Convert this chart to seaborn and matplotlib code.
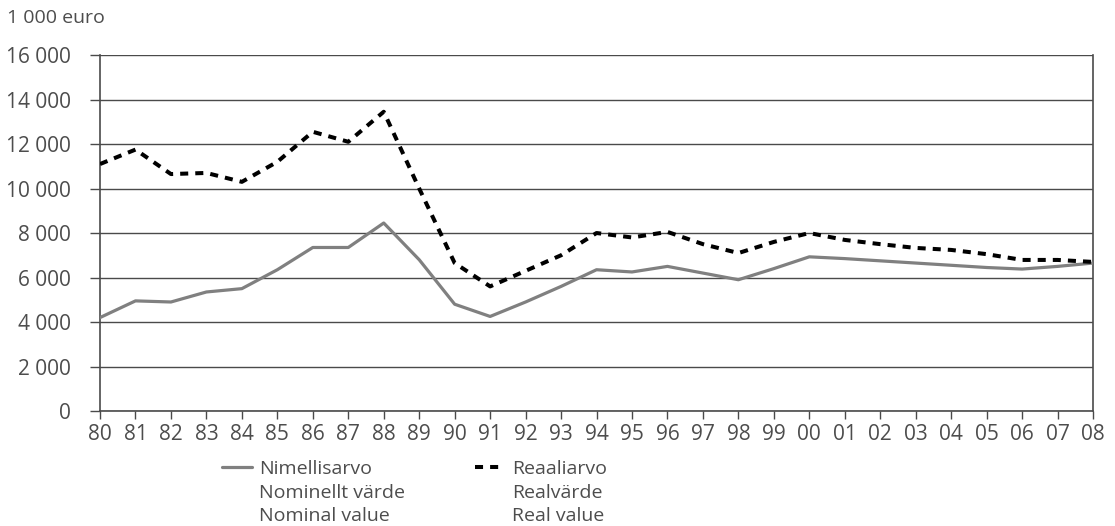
import numpy as np
import pandas as pd
import matplotlib
matplotlib.use("Agg")
import matplotlib.pyplot as plt
import seaborn as sns
from matplotlib.lines import Line2D
from matplotlib.ticker import FuncFormatter, MultipleLocator

years = list(range(1980, 2009))
year_labels = [f"{y % 100:02d}" for y in years]
nominal = [4200, 4950, 4900, 5350, 5500, 6350, 7350, 7350, 8450, 6800,
           4800, 4250, 4900, 5600, 6350, 6250, 6500, 6200, 5900, 6400,
           6930, 6850, 6750, 6650, 6550, 6450, 6380, 6500, 6650]
real = [11100, 11750, 10650, 10700, 10300, 11200, 12550, 12100, 13450, 10000,
        6650, 5600, 6300, 7000, 8000, 7800, 8050, 7500, 7100, 7600,
        8000, 7690, 7500, 7330, 7240, 7050, 6790, 6790, 6700]
nominal_labels = ["Nimellisarvo", "Nominellt värde", "Nominal value"]
real_labels = ["Reaaliarvo", "Realvärde", "Real value"]

sns.set_style("white")
plt.rcParams["font.family"] = ["Open Sans", "DejaVu Sans"]
text_col = "#4d4d4d"
grid_col = "#4a4a4a"
nom_col = "#808080"
real_dash = (0, (2.0, 1.75))

df = pd.DataFrame({"year": years, "nominal": nominal, "real": real})

fig = plt.figure(figsize=(11.15, 5.26), dpi=100)
ax = fig.add_axes([0.0897, 0.2186, 0.8906, 0.6768])

# horizontal grid incl. the top line at 16 000
for v in range(0, 16001, 2000):
    ax.axhline(v, color=grid_col, linewidth=1.0, zorder=1)

sns.lineplot(data=df, x="year", y="nominal", ax=ax, color=nom_col,
             linewidth=2.3, zorder=3)
sns.lineplot(data=df, x="year", y="real", ax=ax, color="black",
             linewidth=2.9, linestyle=real_dash, zorder=4)

ax.set_xlim(years[0], years[-1])
ax.set_ylim(0, 16000)
ax.set_xticks(years)
ax.set_xticklabels(year_labels)
ax.yaxis.set_major_locator(MultipleLocator(2000))
ax.yaxis.set_major_formatter(FuncFormatter(lambda v, p: f"{int(v):,}".replace(",", " ")))
ax.set_xlabel("")
ax.set_ylabel("")

for side in ["left", "right", "bottom"]:
    ax.spines[side].set_visible(True)
    ax.spines[side].set_color(grid_col)
    ax.spines[side].set_linewidth(1.2)
ax.spines["top"].set_visible(False)

ax.tick_params(axis="x", bottom=True, direction="out", length=6, width=1.0,
               color=grid_col, labelsize=15, labelcolor=text_col, pad=3)
ax.tick_params(axis="y", left=True, direction="out", length=7.2, width=1.0,
               color=grid_col, labelsize=15, labelcolor=text_col, pad=14)

fig.text(0.006, 0.965, "1 000 euro", fontsize=14, color=text_col, ha="left", va="center")

# legend: one handle per series, the other language lines as blank entries
blank = Line2D([], [], color="none")
handles = [Line2D([], [], color=nom_col, linewidth=2.3), blank, blank,
           Line2D([], [], color="black", linewidth=2.9, linestyle=real_dash), blank, blank]
labels = nominal_labels + real_labels
leg = fig.legend(handles, labels, loc="upper left", bbox_to_anchor=(0.199, 0.126),
                 ncol=2, frameon=False, fontsize=14, handlelength=1.55,
                 handletextpad=0.36, columnspacing=3.6, labelspacing=0.3,
                 borderpad=0, borderaxespad=0)
for t in leg.get_texts():
    t.set_color(text_col)

fig.savefig("out.png", dpi=100)
